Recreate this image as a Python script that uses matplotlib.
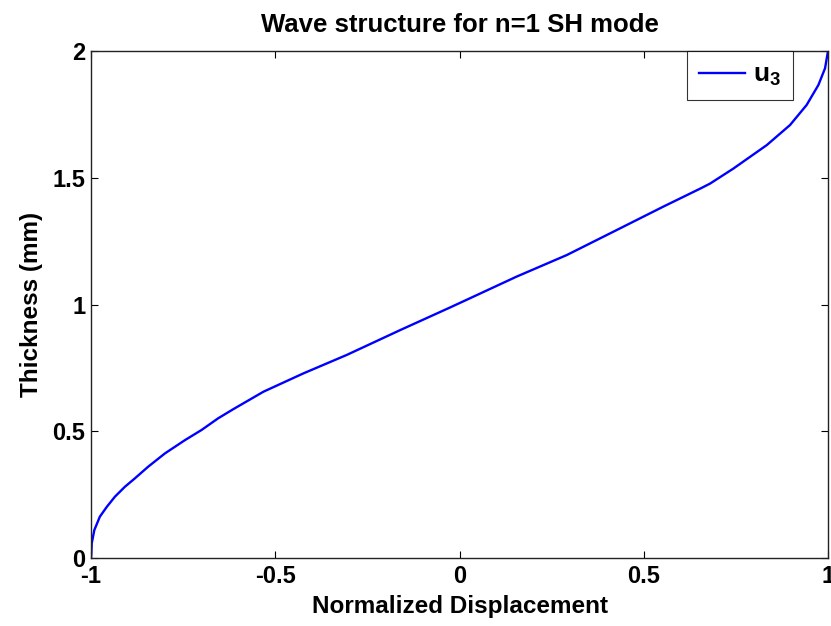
import matplotlib
matplotlib.use("Agg")
import matplotlib.pyplot as plt

# Data (displacement vs. thickness)
displacement = [-1.0, -0.999, -0.998, -0.991, -0.976, -0.957, -0.935, -0.908, -0.881, -0.845,
                -0.799, -0.745, -0.700, -0.655, -0.614, -0.532, -0.424, -0.306, -0.161, -0.026,
                0.029, 0.155, 0.291, 0.427, 0.553, 0.653, 0.680, 0.743, 0.834, 0.897,
                0.942, 0.974, 0.992, 1.0]
thickness = [0.0, 0.02, 0.058, 0.110, 0.163, 0.202, 0.242, 0.281, 0.314, 0.360,
             0.413, 0.465, 0.505, 0.551, 0.587, 0.656, 0.728, 0.801, 0.899, 0.988,
             1.025, 1.110, 1.195, 1.294, 1.386, 1.457, 1.477, 1.536, 1.629, 1.708,
             1.787, 1.866, 1.932, 2.0]

xticks = [-1, -0.5, 0, 0.5, 1]
xticklabels = ["-1", "-0.5", "0", "0.5", "1"]
yticks = [0, 0.5, 1, 1.5, 2]
yticklabels = ["0", "0.5", "1", "1.5", "2"]

plt.rcParams['font.family'] = ['Liberation Sans', 'DejaVu Sans']
plt.rcParams['font.weight'] = 'bold'
plt.rcParams['mathtext.fontset'] = 'custom'
plt.rcParams['mathtext.rm'] = 'Liberation Sans:bold'
plt.rcParams['mathtext.bf'] = 'Liberation Sans:bold'
plt.rcParams['mathtext.it'] = 'Liberation Sans:bold'

fig = plt.figure(figsize=(8.31, 6.26), dpi=100)
ax = fig.add_axes([91/831, 1 - 558/626, (828-91)/831, (558-51)/626])

ax.plot(displacement, thickness, color=(0, 0, 1), lw=1.7, label=r'$\mathbf{u}_\mathbf{3}$')

ax.set_xlim(-1, 1)
ax.set_ylim(0, 2)
ax.set_xticks(xticks)
ax.set_xticklabels(xticklabels)
ax.set_yticks(yticks)
ax.set_yticklabels(yticklabels)
ax.tick_params(direction='in', length=5, width=0.8, top=True, right=True,
               labelsize=17, colors='black')
ax.tick_params(axis='x', pad=5)
ax.tick_params(axis='y', pad=4)
for s in ax.spines.values():
    s.set_linewidth(1.0)
    s.set_color('#222222')

ax.set_title("Wave structure for n=1 SH mode", fontsize=18.5, fontweight='bold', pad=14)
ax.set_xlabel("Normalized Displacement", fontsize=17.5, fontweight='bold', labelpad=5)
ax.set_ylabel("Thickness (mm)", fontsize=17.5, fontweight='bold', labelpad=7)

leg = ax.legend(loc='upper right', bbox_to_anchor=((793-91)/737, 1.0), fontsize=19,
                frameon=True, fancybox=False, borderaxespad=0, handlelength=1.75,
                handletextpad=0.3, borderpad=0.45)
leg.get_frame().set_edgecolor('black')
leg.get_frame().set_linewidth(0.8)

fig.savefig("out.png", dpi=100)
